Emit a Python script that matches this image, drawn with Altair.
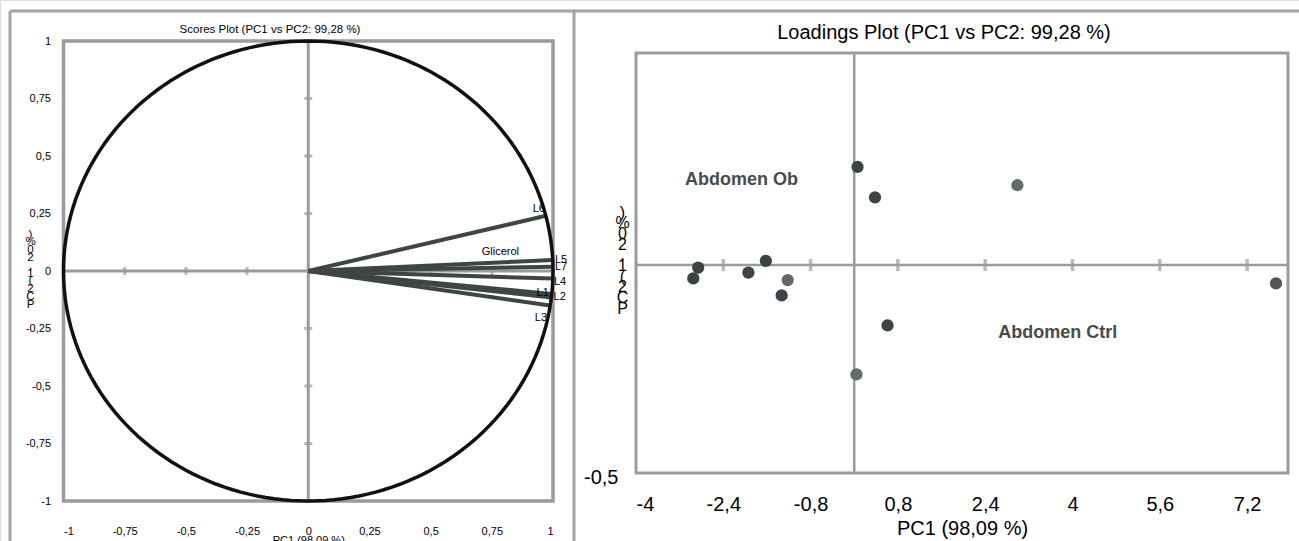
import altair as alt
import pandas as pd

W, H = 1299, 541
GRAY = "#9b9b9b"
DARK = "#3e4644"
FONT = "Liberation Sans"

# ---------------- left panel: correlation circle ----------------
var_names = ["L6", "L5", "L7", "L4", "L1", "L2", "L3"]
var_pc1 = [0.971, 1.0, 1.0, 1.0, 0.995, 0.994, 0.988]
var_pc2 = [0.240, 0.048, 0.018, -0.033, -0.100, -0.115, -0.150]
suppl_names = ["Glicerol"]
suppl_pc1 = [0.785]
suppl_pc2 = [0.083]
left_ticks = [-1, -0.75, -0.5, -0.25, 0, 0.25, 0.5, 0.75, 1]
left_minor = [-0.75, -0.5, -0.25, 0.25, 0.5, 0.75]

# ---------------- right panel: observations ----------------
obs_pc1 = [0.06, 0.38, -2.86, -2.95, -1.94, -1.62, -1.22, -1.33, 0.61, 0.04, 2.99, 7.73]
obs_pc2 = [0.236, 0.163, -0.006, -0.032, -0.018, 0.010, -0.036, -0.073, -0.145, -0.263, 0.192, -0.044]
obs_shade = ["dark", "dark", "dark", "dark", "dark", "dark", "light", "dark", "dark", "light", "light", "mid"]
group_names = ["Abdomen Ob", "Abdomen Ctrl"]
group_pc1 = [-3.10, 2.64]
group_pc2 = [0.204, -0.163]
right_xticks = [-4, -2.4, -0.8, 0.8, 2.4, 4, 5.6, 7.2]
right_yticks = [-0.5]

pc2_title = list("PC2 (1,20 %)")[::-1]

LX = alt.Scale(domain=[-1, 1], range=[63.5, 553], nice=False, zero=False)
LY = alt.Scale(domain=[-1, 1], range=[501, 41], nice=False, zero=False)
RX = alt.Scale(domain=[-4, 7.95], range=[636, 1288], nice=False, zero=False)
RY = alt.Scale(domain=[-0.5, 0.51], range=[473, 53], nice=False, zero=False)

LBL = "replace(toString(datum.value), '.', ',')"

vars_df = pd.DataFrame({"name": var_names, "pc1": var_pc1, "pc2": var_pc2, "o": 0.0})
left_frame_df = pd.DataFrame({"x": [-1.0], "x2": [1.0], "y": [-1.0], "y2": [1.0]})
left_axis_df = pd.DataFrame({"z": [0.0], "lo": [-1.0], "hi": [1.0]})
left_minor_df = pd.DataFrame({"v": left_minor, "z": 0.0})
suppl_df = pd.DataFrame({"name": suppl_names, "pc1": suppl_pc1, "pc2": suppl_pc2})

obs_df = pd.DataFrame({"pc1": obs_pc1, "pc2": obs_pc2, "shade": obs_shade})
groups_df = pd.DataFrame({"name": group_names, "pc1": group_pc1, "pc2": group_pc2})
right_frame_df = pd.DataFrame({"x": [-4.0], "x2": [7.95], "y": [-0.5], "y2": [0.51]})
right_axis_df = pd.DataFrame({"z": [0.0], "xlo": [-4.0], "xhi": [7.95], "ylo": [-0.5], "yhi": [0.51]})
right_ticks_df = pd.DataFrame({"v": [t for t in right_xticks if t != -4], "z": 0.0})


def lx(f, axis=None):
    return alt.X(f, scale=LX, axis=axis)


def ly(f, axis=None):
    return alt.Y(f, scale=LY, axis=axis)


def rx(f, axis=None):
    return alt.X(f, scale=RX, axis=axis)


def ry(f, axis=None):
    return alt.Y(f, scale=RY, axis=axis)


# outer panel borders (decoration)
borders = alt.Chart(pd.DataFrame({"k": [0]})).mark_rule(color="#a3a3a3", strokeWidth=3)
border_top = borders.encode(x=alt.value(10), x2=alt.value(W), y=alt.value(11))
border_left = borders.encode(x=alt.value(10), y=alt.value(11), y2=alt.value(H))
border_mid = borders.encode(x=alt.value(574), y=alt.value(11), y2=alt.value(H))

# ---- left panel layers
left_frame = alt.Chart(left_frame_df).mark_rect(fill=None, stroke=GRAY, strokeWidth=3.5).encode(
    x=lx("x:Q"), x2="x2", y=ly("y:Q"), y2="y2")
left_hline = alt.Chart(left_axis_df).mark_rule(color=GRAY, strokeWidth=3).encode(
    x=lx("lo:Q"), x2="hi", y=ly("z:Q"))
left_vline = alt.Chart(left_axis_df).mark_rule(color=GRAY, strokeWidth=3).encode(
    y=ly("lo:Q"), y2="hi", x=lx("z:Q"))
left_xt = alt.Chart(left_minor_df).mark_tick(color=GRAY, orient="vertical", size=8, thickness=3).encode(
    x=lx("v:Q"), y=ly("z:Q"))
left_yt = alt.Chart(left_minor_df).mark_tick(color=GRAY, orient="horizontal", size=8, thickness=3).encode(
    y=ly("v:Q"), x=lx("z:Q"))

vectors = alt.Chart(vars_df).mark_rule(color=DARK, strokeWidth=4).encode(
    x=lx("o:Q"), x2="pc1", y=ly("o:Q"), y2="pc2")

circle = alt.Chart(alt.sequence(0, 362, 2, as_="deg")).transform_calculate(
    cx="cos(datum.deg * PI / 180)", cy="sin(datum.deg * PI / 180)"
).mark_line(color="#111111", strokeWidth=3.5).encode(
    x=lx("cx:Q", alt.Axis(orient="bottom", offset=-40, values=left_ticks, labelExpr=LBL,
                          domain=False, ticks=False, tickSize=0, grid=False, labelPadding=24,
                          labelFontSize=11, labelColor="#000", labelFont=FONT,
                          title="PC1 (98,09 %)", titleFontSize=11, titleFontWeight="normal",
                          titleFont=FONT, titleColor="#000", titleY=33, titleBaseline="top")),
    y=ly("cy:Q", alt.Axis(orient="left", offset=-63.5, values=left_ticks, labelExpr=LBL,
                          domain=False, ticks=False, tickSize=0, grid=False, labelPadding=13,
                          labelFontSize=11, labelColor="#000", labelFont=FONT,
                          title=pc2_title, titleAngle=0, titleAlign="center", titleBaseline="top",
                          titleX=-33.5, titleY=228, titleLineHeight=7.8, titleFontSize=11.5,
                          titleFontWeight="normal", titleFont=FONT, titleColor="#000")),
    order="deg:Q")

lab = alt.Chart(vars_df)
lab_right = lab.transform_filter(alt.FieldOneOfPredicate(field="name", oneOf=["L5", "L7", "L2"])).mark_text(
    align="left", baseline="middle", dx=2, fontSize=11, font=FONT, color="#000").encode(
    x=lx("pc1:Q"), y=ly("pc2:Q"), text="name")
lab_l4 = lab.transform_filter(alt.FieldEqualPredicate(field="name", equal="L4")).mark_text(
    align="left", baseline="middle", dx=1, dy=3, fontSize=11, font=FONT, color="#000").encode(
    x=lx("pc1:Q"), y=ly("pc2:Q"), text="name")
lab_l6 = lab.transform_filter(alt.FieldEqualPredicate(field="name", equal="L6")).mark_text(
    align="right", baseline="middle", dx=-1, dy=-7, fontSize=11, font=FONT, color="#000").encode(
    x=lx("pc1:Q"), y=ly("pc2:Q"), text="name")
lab_l1 = lab.transform_filter(alt.FieldEqualPredicate(field="name", equal="L1")).mark_text(
    align="right", baseline="middle", dx=-3, dy=-1, fontSize=11, font=FONT, color="#000").encode(
    x=lx("pc1:Q"), y=ly("pc2:Q"), text="name")
lab_l3 = lab.transform_filter(alt.FieldEqualPredicate(field="name", equal="L3")).mark_text(
    align="right", baseline="middle", dx=-3, dy=12, fontSize=11, font=FONT, color="#000").encode(
    x=lx("pc1:Q"), y=ly("pc2:Q"), text="name")
suppl_lab = alt.Chart(suppl_df).mark_text(align="center", baseline="middle", fontSize=11, font=FONT,
                                          color="#000").encode(x=lx("pc1:Q"), y=ly("pc2:Q"), text="name")

left_title = alt.Chart(pd.DataFrame({"t": ["Scores Plot (PC1 vs PC2: 99,28 %)"]})).mark_text(
    fontSize=11.5, font=FONT, color="#000", baseline="middle").encode(
    x=alt.value(270), y=alt.value(30), text="t:N")

# ---- right panel layers
right_frame = alt.Chart(right_frame_df).mark_rect(fill=None, stroke=GRAY, strokeWidth=3).encode(
    x=rx("x:Q"), x2="x2", y=ry("y:Q"), y2="y2")
right_hline = alt.Chart(right_axis_df).mark_rule(color=GRAY, strokeWidth=2.5).encode(
    x=rx("xlo:Q"), x2="xhi", y=ry("z:Q"))
right_vline = alt.Chart(right_axis_df).mark_rule(color=GRAY, strokeWidth=2.5).encode(
    y=ry("ylo:Q"), y2="yhi", x=rx("z:Q"))
right_xt = alt.Chart(right_ticks_df).mark_tick(color=GRAY, orient="vertical", size=12, thickness=3.5).encode(
    x=rx("v:Q"), y=ry("z:Q"))

points = alt.Chart(obs_df).mark_circle(size=150, opacity=1).encode(
    x=rx("pc1:Q", alt.Axis(orient="bottom", offset=-68, values=right_xticks, labelExpr=LBL,
                           domain=False, ticks=False, tickSize=0, grid=False, labelPadding=21,
                           labelFontSize=20, labelColor="#000", labelFont=FONT,
                           title="PC1 (98,09 %)", titleFontSize=20, titleFontWeight="normal",
                           titleFont=FONT, titleColor="#000", titleY=45, titleBaseline="top")),
    y=ry("pc2:Q", alt.Axis(orient="left", offset=-636, values=right_yticks, labelExpr=LBL,
                           domain=False, ticks=False, tickSize=0, grid=False, labelPadding=18,
                           labelOffset=4, labelFontSize=20, labelColor="#000", labelFont=FONT,
                           title=pc2_title, titleAngle=0, titleAlign="center", titleBaseline="top",
                           titleX=-14, titleY=204, titleLineHeight=10.7, titleFontSize=16,
                           titleFontWeight="normal", titleFont=FONT, titleColor="#000")),
    color=alt.Color("shade:N", scale=alt.Scale(domain=["dark", "mid", "light"],
                                               range=["#3c4442", "#525857", "#646a69"]), legend=None))

group_lab = alt.Chart(groups_df).mark_text(align="left", baseline="middle", fontSize=18, fontWeight="bold",
                                           font=FONT, color="#454c4b").encode(
    x=rx("pc1:Q"), y=ry("pc2:Q"), text="name")

right_title = alt.Chart(pd.DataFrame({"t": ["Loadings Plot (PC1 vs PC2: 99,28 %)"]})).mark_text(
    fontSize=20, font=FONT, color="#000", baseline="middle").encode(
    x=alt.value(944), y=alt.value(33), text="t:N")

chart = alt.layer(
    border_top, border_left, border_mid,
    left_frame, left_hline, left_vline, left_xt, left_yt, vectors, circle,
    lab_right, lab_l4, lab_l6, lab_l1, lab_l3, suppl_lab, left_title,
    right_frame, right_hline, right_vline, right_xt, points, group_lab, right_title,
).resolve_scale(x="independent", y="independent", color="independent").resolve_axis(
    x="independent", y="independent"
).properties(
    width=W, height=H, autosize=alt.AutoSizeParams(type="none"), padding=0, background="white"
).configure_view(stroke=None).configure(font=FONT)

chart.save("out.html", embed_options={"renderer": "svg", "actions": False})
